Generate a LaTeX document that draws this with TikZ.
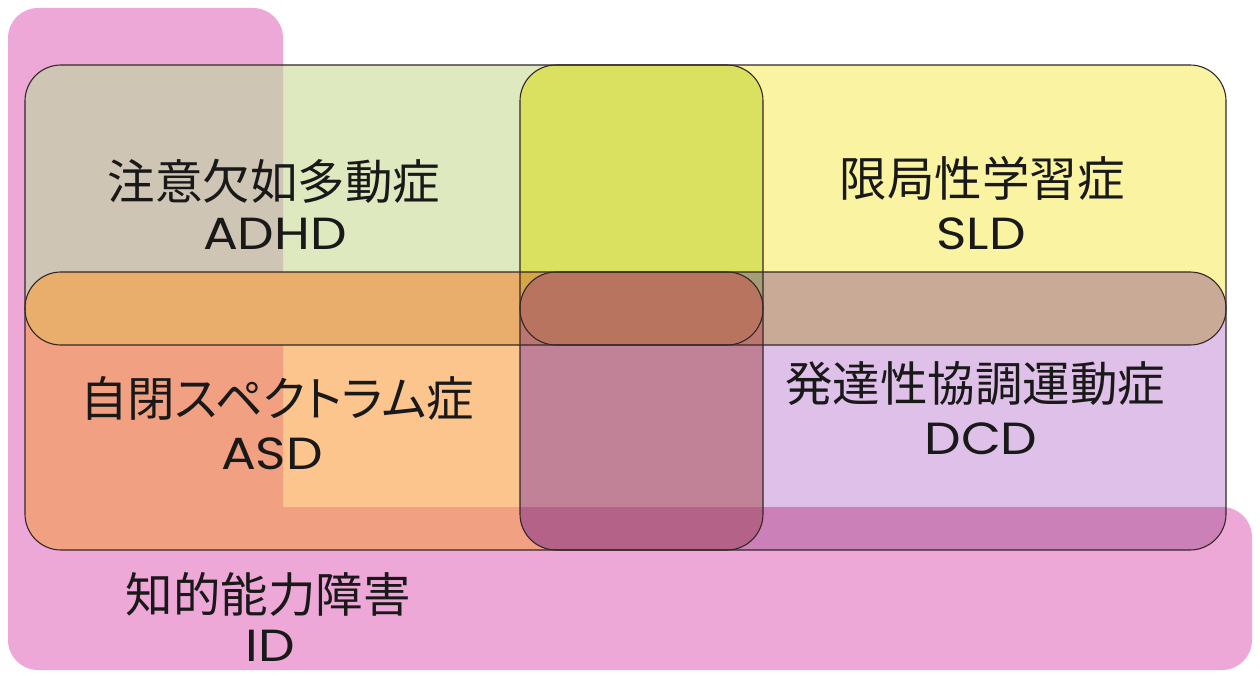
\documentclass[tikz,border=0pt]{standalone}
\usepackage{fontspec}
\newfontfamily\jpfont{Noto Sans CJK JP}
\newfontfamily\jpkfont[RawFeature=+palt]{Noto Sans CJK JP}
\newfontfamily\latfont[FakeStretch=1.15]{Poppins}
\definecolor{cP}{RGB}{238,168,216}
\definecolor{cA}{RGB}{222,233,192}
\definecolor{cAP}{RGB}{207,197,180}
\definecolor{cS}{RGB}{249,243,162}
\definecolor{cAS}{RGB}{218,224,96}
\definecolor{cB}{RGB}{252,197,142}
\definecolor{cBP}{RGB}{242,160,130}
\definecolor{cAB}{RGB}{233,173,108}
\definecolor{cASB}{RGB}{214,165,70}
\definecolor{cD}{RGB}{223,192,232}
\definecolor{cDP}{RGB}{203,128,184}
\definecolor{cSD}{RGB}{200,170,150}
\definecolor{cBD}{RGB}{193,130,152}
\definecolor{cBDP}{RGB}{180,98,135}
\definecolor{cABD}{RGB}{188,118,112}
\definecolor{cASD}{RGB}{165,157,115}
\definecolor{cAll}{RGB}{185,116,96}
\definecolor{edge}{RGB}{50,40,40}
\begin{document}
\begin{tikzpicture}[x=1pt,y=-1pt,
  rc/.style={rounded corners=36pt},
  rp/.style={rounded corners=30pt},
  outline/.style={draw=edge,line width=1.1pt,rounded corners=36pt},
  jp/.style={font=\jpfont\fontsize{47.5}{52}\selectfont,text=black!90,inner sep=0pt},
  jpk/.style={font=\jpkfont\fontsize{47.5}{52}\selectfont,text=black!90,inner sep=0pt},
  lat/.style={font=\latfont\fontsize{45}{50}\selectfont,text=black!90,inner sep=0pt}]
\useasboundingbox (0,0) rectangle (1260,676);
\fill[white] (0,0) rectangle (1260,676);
\def\pA{(25,65) rectangle (763,345)}
\def\pS{(520,65) rectangle (1226,345)}
\def\pB{(25,272) rectangle (763,550)}
\def\pD{(520,272) rectangle (1226,550)}
\def\pP{(8,8) rectangle (283,670) (8,507) rectangle (1252,670)}
% ID background
\fill[cP,rp] \pP;
% ADHD
\fill[cA,rc] \pA;
\begin{scope}\clip[rc] \pA; \fill[cAP,rp] \pP; \end{scope}
% SLD
\fill[cS,rc] \pS;
\begin{scope}\clip[rc] \pS; \fill[cAS,rc] \pA; \end{scope}
% ASD
\fill[cB,rc] \pB;
\begin{scope}\clip[rc] \pB;
  \fill[cBP,rp] \pP;
  \fill[cAB,rc] \pA;
  \clip[rc] \pA; \fill[cASB,rc] \pS;
\end{scope}
% DCD
\fill[cD,rc] \pD;
\begin{scope}\clip[rc] \pD;
  \fill[cDP,rp] \pP;
  \fill[cSD,rc] \pS;
  \begin{scope}\clip[rc] \pS; \fill[cASD,rc] \pA; \end{scope}
  \fill[cBD,rc] \pB;
  \begin{scope}\clip[rc] \pB;
    \fill[cBDP,rp] \pP;
    \fill[cABD,rc] \pA;
    \fill[cABD,rc] \pS;
    \clip[rc] \pA; \fill[cAll,rc] \pS;
  \end{scope}
\end{scope}
% outlines
\draw[outline] \pA;
\draw[outline] \pS;
\draw[outline] \pB;
\draw[outline] \pD;
% labels
\node[jp]  (adhdj) at (274,181) {注意欠如多動症};
\node[lat] (adhd)  at (275,234) {ADHD};
\node[jp]  (sldj)  at (982,178) {限局性学習症};
\node[lat] (sld)   at (981,234) {SLD};
\node[jpk] (asdj)  at (277,398) {自閉スペクトラム症};
\node[lat] (asd)   at (272,454) {ASD};
\node[jp]  (dcdj)  at (975,384) {発達性協調運動症};
\node[lat] (dcd)   at (981,439) {DCD};
\node[jp]  (idj)   at (268,594) {知的能力障害};
\node[lat] (id)    at (270,646) {ID};
\end{tikzpicture}
\end{document}
